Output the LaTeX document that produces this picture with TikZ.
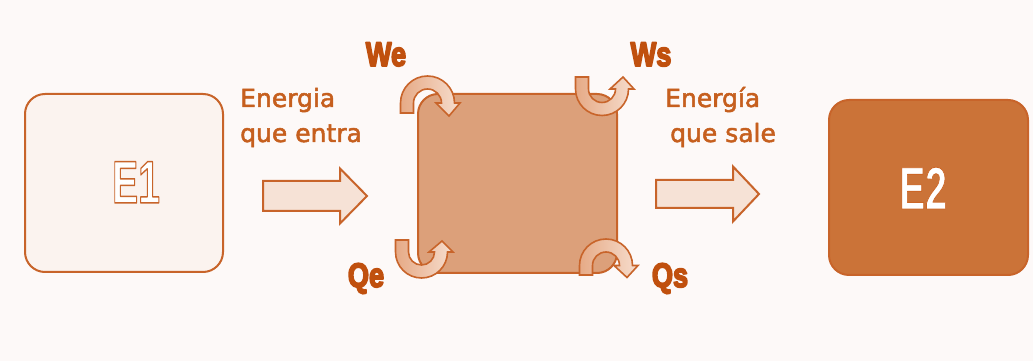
\documentclass[tikz,border=0pt]{standalone}
\usepackage{fontspec}
\setmainfont{DejaVu Sans}
\newfontfamily\labfont{Liberation Sans}
\definecolor{bg}{HTML}{FDF9F8}
\definecolor{ln}{HTML}{C8642A}
\definecolor{txt}{HTML}{C65F1E}
\definecolor{lbl}{HTML}{C0500E}
\definecolor{e1fill}{HTML}{FBF3EF}
\definecolor{midfill}{HTML}{DCA07A}
\definecolor{e2fill}{HTML}{CB7338}
\definecolor{arfill}{HTML}{F6E2D6}
\definecolor{cdark}{HTML}{E6AA86}
\definecolor{clight}{HTML}{F6DDCD}
\tikzset{
  box/.style={draw=ln, line width=2pt, rounded corners=20pt, inner sep=0pt},
  barrow/.style={draw=ln, line width=2pt, fill=arfill, line join=miter},
  carr/.style={draw=ln, line width=1.6pt, left color=cdark, right color=clight, line join=miter},
  etxt/.style={inner sep=0pt, font=\fontsize{25}{30}\selectfont},
  lab/.style={inner sep=0pt, anchor=base, xscale=0.8, font=\labfont\bfseries\fontsize{34}{34}\selectfont},
  big/.style={inner sep=0pt, anchor=base, xscale=0.65, font=\labfont\bfseries\fontsize{60}{60}\selectfont}
}
% stroked text: #1 line width, #2 stroke rgb, #3 fill colour, #4 text
\newcommand{\stext}[4]{{\color{#3}\special{pdf:literal direct 2 Tr #1 w 1 j #2 RG}#4\special{pdf:literal direct 0 Tr}}}
% curved ribbon arrow: centre, r, leg length, tip drop, yscale (1: arch with tip down, -1: U with tip up)
\newcommand{\carrow}[6]{%
  \begin{scope}[shift={(#1,#2)}, yscale=#6]
    \pgfmathsetmacro\ro{#3+6.5}\pgfmathsetmacro\ri{#3-6.5}%
    \pgfmathsetmacro\ho{#3+12}\pgfmathsetmacro\hi{#3-12}%
    \draw[carr] (-\ro,-#4) -- (-\ro,0) arc[start angle=180, end angle=0, radius=\ro pt]
      -- (\ho,0) -- (#3+1,-#5) -- (\hi,0) -- (\ri,0)
      arc[start angle=0, end angle=180, radius=\ri pt] -- (-\ri,-#4) -- cycle;
  \end{scope}}
\begin{document}
\begin{tikzpicture}[x=1pt, y=1pt]
  \useasboundingbox (0,0) rectangle (1033,361);
  \fill[bg] (0,0) rectangle (1033,361);
  % boxes
  \node[box, fill=e1fill, minimum width=198pt, minimum height=178pt] (e1) at (124,178) {};
  \node[box, fill=midfill, minimum width=199pt, minimum height=179pt] (mid) at (517.5,177.5) {};
  \node[box, fill=e2fill, minimum width=199pt, minimum height=175pt] (e2) at (928.5,173.5) {};
  \node[big] (e1t) at (136,158) {\stext{1.5}{0.784 0.392 0.165}{white}{E1}};
  \node[big] (e2t) at (923,152) {\stext{0.9}{0.80 0.40 0.15}{white}{E2}};
  % straight arrows
  \coordinate (a1) at (263,165);
  \coordinate (a2) at (656,167);
  \begin{scope}[shift={(a1)}]
    \draw[barrow] (0,15) -- (77,15) -- (77,27.5) -- (104,0) -- (77,-27.5) -- (77,-15) -- (0,-15) -- cycle;
  \end{scope}
  \begin{scope}[shift={(a2)}]
    \draw[barrow] (0,14) -- (77,14) -- (77,27.5) -- (103,0) -- (77,-27.5) -- (77,-14) -- (0,-14) -- cycle;
  \end{scope}
  % texts
  \node[etxt, anchor=base west] (t1a) at (240,254) {\stext{0.5}{0.776 0.373 0.118}{txt}{Energia}};
  \node[etxt, anchor=base west] (t1b) at (240,219) {\stext{0.5}{0.776 0.373 0.118}{txt}{que entra}};
  \node[etxt, anchor=base west] (t2a) at (665,254) {\stext{0.5}{0.776 0.373 0.118}{txt}{Energía}};
  \node[etxt, anchor=base west] (t2b) at (670,219) {\stext{0.5}{0.776 0.373 0.118}{txt}{que sale}};
  % curved arrows
  \carrow{427.5}{258}{20.5}{10}{13}{1}
  \carrow{602}{272}{20}{12}{12}{-1}
  \carrow{421.5}{109}{19.5}{12}{11}{-1}
  \carrow{606}{95.5}{20}{9.5}{12}{1}
  % labels
  \node[lab] (we) at (386,295) {\stext{1.8}{0.753 0.314 0.055}{lbl}{We}};
  \node[lab] (ws) at (651,295) {\stext{1.8}{0.753 0.314 0.055}{lbl}{Ws}};
  \node[lab] (qe) at (366,74) {\stext{1.8}{0.753 0.314 0.055}{lbl}{Qe}};
  \node[lab] (qs) at (670,74) {\stext{1.8}{0.753 0.314 0.055}{lbl}{Qs}};
\end{tikzpicture}
\end{document}
